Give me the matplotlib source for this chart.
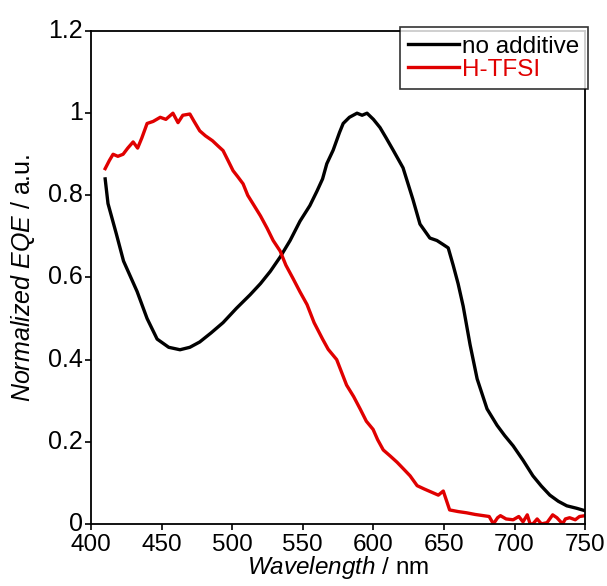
import matplotlib
matplotlib.use("Agg")
import matplotlib.pyplot as plt

plt.rcParams['font.family'] = ['Liberation Sans', 'DejaVu Sans']
plt.rcParams['mathtext.fontset'] = 'custom'
plt.rcParams['mathtext.rm'] = 'Liberation Sans'
plt.rcParams['mathtext.it'] = 'Liberation Sans:italic'

# no additive (black)
wl_ref = [410, 412, 418, 423, 432.6, 439.7, 446.8, 455, 463, 470, 477, 485,
          493.5, 503, 512.7, 520, 527, 534, 541, 548, 555, 560, 564, 567,
          571.5, 576, 578.6, 583, 588.4, 592, 595.5, 600, 604.7, 609, 614,
          621, 628, 633, 640, 645, 649.5, 653, 656.5, 660, 663.6, 668.5,
          673.5, 680.5, 687.6, 693, 699, 706, 713, 719, 725, 731, 737, 744, 750]
eqe_ref = [0.84, 0.78, 0.705, 0.64, 0.566, 0.50, 0.45, 0.43, 0.424, 0.43, 0.443,
           0.465, 0.49, 0.525, 0.558, 0.585, 0.615, 0.65, 0.69, 0.737, 0.775,
           0.81, 0.84, 0.877, 0.91, 0.953, 0.975, 0.99, 1.0, 0.995, 1.0, 0.985,
           0.965, 0.94, 0.91, 0.867, 0.79, 0.73, 0.696, 0.69, 0.68, 0.672,
           0.63, 0.585, 0.53, 0.436, 0.353, 0.28, 0.24, 0.215, 0.19, 0.155,
           0.117, 0.092, 0.07, 0.055, 0.044, 0.038, 0.032]

# H-TFSI (red)
wl_tfsi = [410, 413, 415.6, 419, 422.7, 426, 429.8, 433, 436, 439.7, 444, 449,
           453, 458, 461.6, 465, 470, 473, 477, 481, 486, 490, 493.5, 497,
           500.6, 504, 507.7, 511, 514.8, 520, 524.7, 529, 534, 538, 543,
           548, 553, 558, 564, 568, 574, 581, 586, 590.6, 595, 599.8, 603,
           607, 612, 616.8, 621, 626, 631, 636, 642, 646, 649.5, 654, 660,
           666, 672, 678, 682, 685, 688, 690, 694, 699, 703, 706, 709, 711,
           713, 716, 719, 723, 727, 730, 734, 736, 739, 743, 746, 750]
eqe_tfsi = [0.865, 0.885, 0.9, 0.895, 0.9, 0.915, 0.93, 0.915, 0.94, 0.975, 0.98,
            0.99, 0.985, 1.0, 0.977, 0.995, 0.998, 0.98, 0.957, 0.945, 0.933,
            0.92, 0.909, 0.885, 0.86, 0.845, 0.828, 0.8, 0.779, 0.75, 0.72,
            0.69, 0.664, 0.63, 0.598, 0.565, 0.534, 0.49, 0.45, 0.425, 0.40,
            0.338, 0.31, 0.28, 0.25, 0.23, 0.205, 0.18, 0.165, 0.15, 0.135,
            0.117, 0.093, 0.085, 0.076, 0.07, 0.08, 0.034, 0.03, 0.027, 0.023,
            0.02, 0.018, 0.0, 0.015, 0.02, 0.012, 0.01, 0.018, 0.005, 0.022,
            0.0, 0.0, 0.012, 0.0, 0.003, 0.022, 0.015, 0.0, 0.012, 0.015,
            0.01, 0.018, 0.02]

fig = plt.figure(figsize=(6.07, 5.86), dpi=100)
ax = fig.add_axes([0.150, 0.106, 0.814, 0.841])

ax.plot(wl_ref, eqe_ref, color='black', linewidth=2.4, label='no additive')
ax.plot(wl_tfsi, eqe_tfsi, color='#e00000', linewidth=2.4, label='H-TFSI')

ax.set_xlim(400, 750)
ax.set_ylim(0, 1.2)
ax.set_xticks([400, 450, 500, 550, 600, 650, 700, 750])
ax.set_yticks([0, 0.2, 0.4, 0.6, 0.8, 1.0, 1.2])
ax.set_yticklabels(['0', '0.2', '0.4', '0.6', '0.8', '1', '1.2'], va='center')
ax.tick_params(direction='out', length=4, width=1.2, labelsize=18,
               top=False, right=False)
ax.tick_params(axis='x', pad=3, labelsize=17.5)
ax.tick_params(axis='y', pad=2)
for s in ax.spines.values():
    s.set_linewidth(1.3)

ax.set_xlabel(r'$\it{Wavelength}$ / nm', fontsize=17.5, labelpad=-1)
ax.set_ylabel(r'$\it{Normalized\ EQE}$ / a.u.', fontsize=18, labelpad=8)

leg = ax.legend(loc='upper right', bbox_to_anchor=(1.005, 1.008), fontsize=17.5,
                frameon=True, fancybox=False, borderpad=0.35, handlelength=2.1,
                handletextpad=0.1, labelspacing=0.05, borderaxespad=0)
leg.get_frame().set_edgecolor('black')
leg.get_frame().set_linewidth(1.2)
leg.get_texts()[1].set_color('#e00000')

fig.savefig('out.png', dpi=100)
